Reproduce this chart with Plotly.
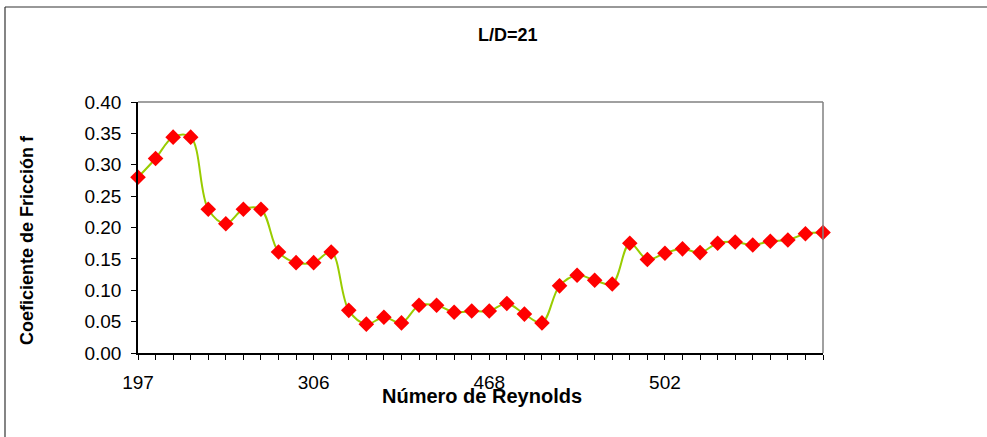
import plotly.graph_objects as go

# ---- data ----
reynolds_labels = ["197", "306", "468", "502"]
label_positions = [0, 10, 20, 30]
point_index = list(range(40))
friction_f = [0.280, 0.310, 0.344, 0.344, 0.229, 0.206, 0.229, 0.229, 0.161, 0.144,
              0.144, 0.161, 0.068, 0.046, 0.057, 0.048, 0.076, 0.076, 0.065, 0.067,
              0.067, 0.079, 0.062, 0.048, 0.107, 0.124, 0.116, 0.110, 0.175, 0.149,
              0.159, 0.166, 0.160, 0.175, 0.177, 0.172, 0.178, 0.180, 0.190, 0.192]

W, H = 987, 437
L, R, T, B = 138, 823, 102, 353
pw, ph = R - L, B - T

def px(x):
    return (x - L) / pw

def py(y):
    return (B - y) / ph

fig = go.Figure()
fig.add_trace(go.Scatter(
    x=point_index, y=friction_f, mode="lines+markers",
    line=dict(color="#99CC00", width=2, shape="spline", smoothing=1.0),
    marker=dict(symbol="diamond", size=12, color="#FF0000"),
    cliponaxis=False, showlegend=False,
))

font = "Liberation Sans, Arial, sans-serif"
fig.update_layout(
    width=W, height=H,
    margin=dict(l=L, r=W - R, t=T, b=H - B, pad=0),
    paper_bgcolor="white", plot_bgcolor="white",
    font=dict(family=font, size=18, color="black"),
    xaxis=dict(
        range=[0, 39], tickvals=label_positions, ticktext=reynolds_labels,
        ticks="outside", ticklen=5, tickwidth=1, tickcolor="black",
        minor=dict(dtick=1, tick0=0, ticks="outside", ticklen=5, tickwidth=1, tickcolor="black"),
        showline=True, linecolor="black", linewidth=1.5, showgrid=False, zeroline=False,
        tickfont=dict(size=19), ticklabelstandoff=6,
    ),
    yaxis=dict(
        range=[0, 0.4], dtick=0.05, tick0=0, tickformat=".2f",
        ticks="outside", ticklen=5, tickwidth=1, tickcolor="black",
        showline=True, linecolor="black", linewidth=1.5, showgrid=False, zeroline=False,
        tickfont=dict(size=19), ticklabelstandoff=6,
    ),
    shapes=[
        # outer chart frame (top and left edges; the rest lies outside the view)
        dict(type="line", xref="paper", yref="paper",
             x0=px(5), y0=py(7), x1=px(987), y1=py(7),
             line=dict(color="#333333", width=1.2), layer="below"),
        dict(type="line", xref="paper", yref="paper",
             x0=px(5), y0=py(7), x1=px(5), y1=py(437),
             line=dict(color="#333333", width=1.2), layer="below"),
        # plot area top and right border
        dict(type="line", xref="paper", yref="paper", x0=0, y0=1, x1=1, y1=1,
             line=dict(color="#808080", width=1.5)),
        dict(type="line", xref="paper", yref="paper", x0=1, y0=0, x1=1, y1=1,
             line=dict(color="#808080", width=1.5)),
    ],
    annotations=[
        dict(text="<b>L/D=21</b>", xref="paper", yref="paper", x=px(508), y=py(35),
             showarrow=False, xanchor="center", yanchor="middle", font=dict(size=18)),
        dict(text="<b>Número de Reynolds</b>", xref="paper", yref="paper", x=px(482), y=py(396),
             showarrow=False, xanchor="center", yanchor="middle", font=dict(size=20)),
        dict(text="<b>Coeficiente de Fricción f</b>", xref="paper", yref="paper", x=px(27), y=py(240),
             showarrow=False, xanchor="center", yanchor="middle", textangle=-90, font=dict(size=18)),
    ],
)

fig.write_html(
    "out.html", config={"displayModeBar": False},
    post_script=("document.body.style.margin='0';document.body.style.overflow='hidden';"
                 "document.documentElement.style.overflow='hidden';"),
)
